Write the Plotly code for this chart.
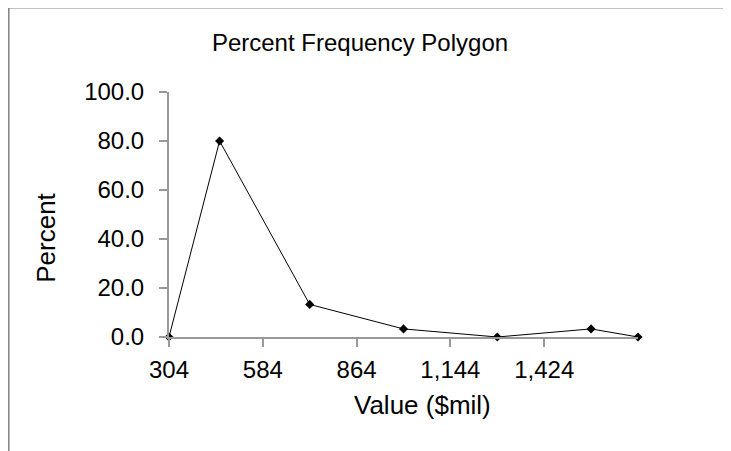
import plotly.graph_objects as go

values = [304, 455, 724, 1004, 1284, 1564, 1704]
percent = [0.0, 80.0, 13.3, 3.3, 0.0, 3.3, 0.0]
x_ticks = [304, 584, 864, 1144, 1424]
y_ticks = [0, 20, 40, 60, 80, 100]

FONT = "Liberation Sans, Arial, sans-serif"
AX = "#999999"
OFF = 8  # page body margin

fig = go.Figure()
fig.add_trace(go.Scatter(
    x=values, y=percent, mode="lines+markers",
    line=dict(color="black", width=1),
    marker=dict(symbol="diamond", size=7, color="black"),
    showlegend=False, cliponaxis=False,
))

fig.update_layout(
    width=731, height=451,
    margin=dict(l=169 - OFF, r=93 + OFF, t=92 - OFF, b=114 + OFF),
    paper_bgcolor="white", plot_bgcolor="white",
    font=dict(family=FONT, size=24, color="black"),
    title=dict(text="Percent Frequency Polygon", x=(360 - OFF) / 731, xref="container",
               xanchor="center", y=1 - (43 - OFF) / 451, yanchor="middle",
               font=dict(size=24)),
    xaxis=dict(range=[304, 1704], tickvals=x_ticks, tickformat=",",
               showgrid=False, zeroline=False, showline=True,
               linecolor=AX, linewidth=2, ticks="outside", ticklen=8,
               tickcolor=AX, tickwidth=2, ticklabelstandoff=2),
    yaxis=dict(range=[0, 100], tickvals=y_ticks, tickformat=".1f",
               showgrid=False, zeroline=False, showline=True,
               linecolor=AX, linewidth=2, ticks="outside", ticklen=8,
               tickcolor=AX, tickwidth=2, ticklabelstandoff=10),
    xaxis2=dict(range=[304, 1704], tickvals=x_ticks, overlaying="x",
                showticklabels=False, showgrid=False, zeroline=False,
                showline=False, ticks="inside", ticklen=8, tickcolor=AX,
                tickwidth=2, side="bottom", anchor="y"),
    yaxis2=dict(range=[0, 100], tickvals=y_ticks, overlaying="y",
                showticklabels=False, showgrid=False, zeroline=False,
                showline=False, ticks="inside", ticklen=8, tickcolor=AX,
                tickwidth=2, side="left", anchor="x"),
    annotations=[
        dict(text="Value ($mil)", xref="paper", yref="paper", x=0.54, y=-0.2776,
             xanchor="center", yanchor="middle", showarrow=False,
             font=dict(size=26)),
        dict(text="Percent", xref="paper", yref="paper", x=-0.2623, y=0.405,
             xanchor="center", yanchor="middle", showarrow=False, textangle=-90,
             font=dict(size=26)),
    ],
    shapes=[
        dict(type="path", xref="paper", yref="paper",
             path="M -0.342 -1 L -0.342 1.345 L 1.5 1.345",
             line=dict(color="#888888", width=2)),
    ],
)

fig.write_html("out.html")
